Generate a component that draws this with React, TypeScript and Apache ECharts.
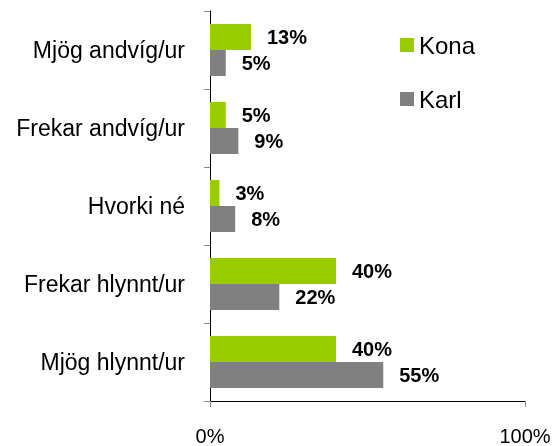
import React, { useEffect, useRef } from "react";
import * as echarts from "echarts";

const categories = ["Mjög andvíg/ur", "Frekar andvíg/ur", "Hvorki né", "Frekar hlynnt/ur", "Mjög hlynnt/ur"];
const konaValues = [13, 5, 3, 40, 40];
const karlValues = [5, 9, 8, 22, 55];
const seriesNames = ["Kona", "Karl"];
const xTicks = [0, 100];

const FONT = "'Liberation Sans', Arial, sans-serif";

export default function App() {
  const ref = useRef<HTMLDivElement>(null);
  useEffect(() => {
    if (!ref.current) return;
    const chart = echarts.init(ref.current, undefined, { renderer: "svg" });
    const labelCfg = {
      show: true,
      position: "right",
      distance: 16,
      formatter: "{c}%",
      color: "#000",
      fontWeight: "bold",
      fontSize: 20,
      fontFamily: FONT,
    };
    chart.setOption({
      animation: false,
      textStyle: { fontFamily: FONT },
      grid: { left: 210, right: 29, top: 11, bottom: 45, containLabel: false },
      legend: {
        orient: "vertical",
        left: 395,
        top: 28,
        itemWidth: 14,
        itemHeight: 14,
        itemGap: 30,
        icon: "rect",
        data: seriesNames,
        textStyle: { fontSize: 24, color: "#000", fontFamily: FONT },
      },
      xAxis: {
        type: "value",
        min: xTicks[0],
        max: xTicks[1],
        interval: 100,
        axisLine: { show: true, lineStyle: { color: "#000", width: 1 } },
        axisTick: { show: true, length: 6, lineStyle: { color: "#888" } },
        splitLine: { show: false },
        axisLabel: { margin: 25, fontSize: 20, color: "#000", fontFamily: FONT, formatter: "{value}%" },
      },
      yAxis: {
        type: "category",
        inverse: true,
        data: categories,
        axisLine: { show: true, lineStyle: { color: "#000", width: 1 } },
        axisTick: { show: true, length: 6, alignWithLabel: false, lineStyle: { color: "#888" } },
        axisLabel: { margin: 25, fontSize: 23, color: "#000", fontFamily: FONT },
      },
      series: [
        {
          name: seriesNames[0],
          type: "bar",
          data: konaValues,
          barWidth: 26,
          barGap: "0%",
          itemStyle: { color: "#99CC00" },
          label: labelCfg,
        },
        {
          name: seriesNames[1],
          type: "bar",
          data: karlValues,
          barWidth: 26,
          barGap: "0%",
          itemStyle: { color: "#808080" },
          label: labelCfg,
        },
      ],
    });
    return () => chart.dispose();
  }, []);
  return <div ref={ref} style={{ position: "fixed", left: 0, top: 0, width: 554, height: 446 }} />;
}
